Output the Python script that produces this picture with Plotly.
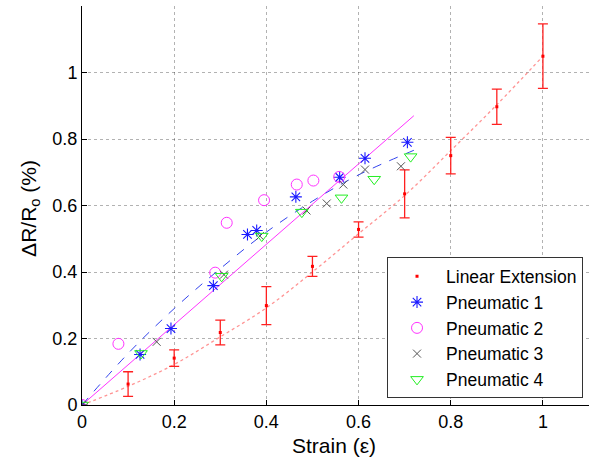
import plotly.graph_objects as go

# ---- data ----
lin_x = [0, 0.1, 0.2, 0.3, 0.4, 0.5, 0.6, 0.7, 0.8, 0.9, 1.0]
lin_y = [0, 0.063, 0.141, 0.218, 0.299, 0.417, 0.528, 0.635, 0.750, 0.897, 1.049]
lin_err = [0, 0.037, 0.025, 0.037, 0.057, 0.030, 0.023, 0.072, 0.055, 0.053, 0.097]

# trend curve of linear extension
lin_fit_x = [0, 0.1, 0.2, 0.3, 0.4, 0.5, 0.6, 0.7, 0.8, 0.9, 1.0]
lin_fit_y = [0, 0.056, 0.122, 0.205, 0.292, 0.40, 0.515, 0.63, 0.765, 0.903, 1.049]

p1_x = [0, 0.126, 0.193, 0.285, 0.359, 0.379, 0.464, 0.559, 0.614, 0.706]
p1_y = [0, 0.152, 0.230, 0.359, 0.513, 0.525, 0.626, 0.685, 0.742, 0.790]

p2_x = [0, 0.079, 0.289, 0.314, 0.395, 0.466, 0.502, 0.558]
p2_y = [0, 0.184, 0.398, 0.548, 0.616, 0.663, 0.675, 0.686]

p3_x = [0, 0.162, 0.308, 0.386, 0.487, 0.531, 0.567, 0.614, 0.692]
p3_y = [0, 0.190, 0.392, 0.508, 0.585, 0.606, 0.663, 0.708, 0.718]

p4_x = [0, 0.128, 0.303, 0.390, 0.477, 0.563, 0.634, 0.713]
p4_y = [0, 0.155, 0.387, 0.508, 0.580, 0.623, 0.679, 0.747]

# fitted curves for pneumatic data
dash_x = [0, 0.1, 0.2, 0.3, 0.4, 0.5, 0.6, 0.72]
dash_y = [0, 0.155, 0.29, 0.41, 0.52, 0.613, 0.692, 0.766]
solid_x = [0, 0.72]
solid_y = [0, 0.87]

x_ticks = [0, 0.2, 0.4, 0.6, 0.8, 1]
x_ticklabels = ["0", "0.2", "0.4", "0.6", "0.8", "1"]
y_ticks = [0, 0.2, 0.4, 0.6, 0.8, 1]
y_ticklabels = ["0", "0.2", "0.4", "0.6", "0.8", "1"]

x_title = "Strain (ε)"
y_title = "ΔR/R<sub>o</sub> (%)"

FONT = "Liberation Sans, Arial, sans-serif"

fig = go.Figure()

fig.add_trace(go.Scatter(x=lin_fit_x, y=lin_fit_y, mode="lines", showlegend=False,
                         line=dict(color="rgba(255,90,90,0.65)", dash="dot", width=1.3, shape="spline"),
                         hoverinfo="skip"))
fig.add_trace(go.Scatter(x=solid_x, y=solid_y, mode="lines", showlegend=False,
                         line=dict(color="#ff33ff", width=1), hoverinfo="skip"))
fig.add_trace(go.Scatter(x=dash_x, y=dash_y, mode="lines", showlegend=False,
                         line=dict(color="#3344ee", width=1, dash="dash", shape="spline"),
                         hoverinfo="skip"))

fig.add_trace(go.Scatter(x=lin_x, y=lin_y, mode="markers", name="Linear Extension",
                         marker=dict(symbol="square", size=3, color="red"),
                         error_y=dict(type="data", array=lin_err, visible=True,
                                      color="#ff2020", thickness=1.3, width=5)))
fig.add_trace(go.Scatter(x=p1_x, y=p1_y, mode="markers", name="Pneumatic 1",
                         marker=dict(symbol="asterisk-open", size=10, color="#1a1aff",
                                     line=dict(color="#1a1aff", width=1.1))))
fig.add_trace(go.Scatter(x=p2_x, y=p2_y, mode="markers", name="Pneumatic 2",
                         marker=dict(symbol="circle-open", size=11, color="#ff33ff",
                                     line=dict(color="#ff33ff", width=1))))
fig.add_trace(go.Scatter(x=p3_x, y=p3_y, mode="markers", name="Pneumatic 3",
                         marker=dict(symbol="x-thin-open", size=8, color="#555555",
                                     line=dict(color="#555555", width=1))))
fig.add_trace(go.Scatter(x=p4_x, y=p4_y, mode="markers", name="Pneumatic 4",
                         marker=dict(symbol="triangle-down-open", size=11, color="#22ee22",
                                     line=dict(color="#22ee22", width=1))))

axis_common = dict(
    showline=True, linecolor="black", linewidth=1, mirror=False,
    ticks="inside", ticklen=5, tickcolor="black",
    showgrid=True, gridcolor="rgba(0,0,0,0.3)", griddash="dot", gridwidth=1,
    zeroline=False, tickfont=dict(family=FONT, size=18, color="black"),
    automargin=False,
)

fig.update_layout(
    width=591, height=460,
    margin=dict(l=82, r=2, t=6, b=54.5, autoexpand=False),
    paper_bgcolor="white", plot_bgcolor="white",
    font=dict(family=FONT, color="black"),
    xaxis=dict(range=[0, 1.1], tickvals=x_ticks, ticktext=x_ticklabels, **axis_common),
    yaxis=dict(range=[0, 1.2], tickvals=y_ticks, ticktext=y_ticklabels, **axis_common),
    legend=dict(x=0.9882, y=0.0163, xanchor="right", yanchor="bottom",
                bgcolor="white", bordercolor="#333333", borderwidth=1,
                font=dict(family=FONT, size=17.5, color="black"),
                itemwidth=48),
    showlegend=True,
    annotations=[
        dict(text=x_title, xref="paper", yref="paper", x=0.4965, y=-0.1014,
             xanchor="center", yanchor="middle", showarrow=False,
             font=dict(family=FONT, size=21, color="black")),
        dict(text=y_title, xref="paper", yref="paper", x=-0.1026, y=0.494,
             xanchor="center", yanchor="middle", showarrow=False, textangle=-90,
             font=dict(family=FONT, size=21, color="black")),
    ],
)

fig.write_html("out.html", config={"displayModeBar": False},
               post_script="document.body.style.margin='0';document.body.style.overflow='hidden';")
